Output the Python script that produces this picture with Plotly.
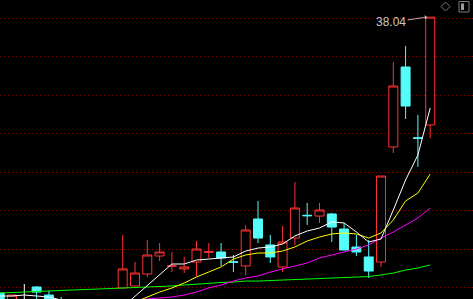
import plotly.graph_objects as go

W, H = 473, 299

# candle index (position along the time axis)
idx = list(range(-1, 35))

opens = [12.96, 12.00, 12.20, 13.51, 12.78, 12.35, 12.00, 11.60, 11.90, 11.70,
         13.42, 13.60, 14.69, 16.33, 15.40, 15.15, 15.78, 16.67, 16.69, 15.80,
         15.42, 19.69, 17.33, 15.33, 17.96, 20.03, 19.96, 20.15, 18.78, 17.14,
         16.24, 15.78, 26.24, 33.51, 27.07, 28.24]
highs = [13.05, 12.78, 13.78, 13.60, 13.15, 12.60, 12.20, 12.10, 12.20, 12.30,
         18.24, 15.78, 17.78, 17.51, 16.69, 16.24, 17.69, 17.51, 17.51, 16.42,
         19.15, 21.33, 18.24, 19.05, 23.05, 21.15, 21.15, 20.24, 19.33, 18.24,
         17.78, 23.60, 33.96, 35.42, 29.15, 38.04]
lows = [11.80, 11.90, 11.90, 12.30, 12.00, 11.80, 11.50, 11.50, 11.60, 11.60,
        13.42, 13.60, 14.42, 15.87, 14.87, 14.78, 14.51, 16.15, 15.42, 14.87,
        14.60, 17.51, 15.69, 14.87, 17.33, 19.15, 19.33, 17.60, 16.87, 16.33,
        14.33, 15.33, 25.69, 28.78, 24.42, 27.05]
closes = [12.00, 12.78, 12.20, 13.05, 12.20, 12.00, 11.70, 11.90, 11.70, 12.10,
          15.15, 14.78, 16.42, 16.69, 15.44, 15.33, 16.96, 16.71, 16.15, 15.76,
          18.69, 17.96, 16.24, 17.60, 20.69, 19.99, 20.51, 18.96, 16.87, 16.69,
          14.96, 23.60, 31.78, 29.96, 27.03, 38.04]

ma5 = [12.69, 12.69, 12.78, 12.69, 12.60, 12.33, 12.05, 11.87, 11.69, 11.42,
       11.69, 12.69, 13.69, 14.69, 15.60, 15.60, 15.96, 16.05, 16.15, 16.24,
       16.78, 17.05, 17.15, 17.42, 18.15, 18.60, 18.87, 19.42, 19.33, 18.51,
       17.60, 17.87, 20.51, 23.24, 25.51, 29.78]
ma10 = [11.90, 11.85, 11.80, 11.75, 11.70, 11.65, 11.60, 11.55, 11.50, 11.45,
        11.69, 12.15, 12.60, 13.05, 13.42, 13.87, 14.42, 14.87, 15.33, 16.05,
        16.42, 16.60, 16.60, 16.78, 17.15, 17.69, 18.05, 18.33, 18.42, 18.33,
        17.96, 18.42, 19.60, 21.33, 22.05, 23.78]
ma20 = [11.60, 11.62, 11.65, 11.68, 11.70, 11.73, 11.76, 11.80, 11.85, 11.95,
        12.15, 12.33, 12.42, 12.51, 12.60, 12.78, 13.05, 13.42, 13.69, 14.05,
        14.33, 14.51, 14.87, 15.15, 15.42, 15.69, 16.15, 16.42, 16.69, 16.96,
        17.33, 17.96, 18.51, 19.15, 19.78, 20.69]
ma60 = [12.96, 13.01, 13.10, 13.15, 13.19, 13.24, 13.24, 13.28, 13.33, 13.33,
        13.37, 13.42, 13.51, 13.55, 13.60, 13.69, 13.78, 13.87, 13.92, 13.96,
        14.05, 14.05, 14.10, 14.15, 14.19, 14.24, 14.28, 14.33, 14.37, 14.42,
        14.46, 14.60, 14.78, 15.05, 15.24, 15.51]

high_label = "38.04"
doji_positions = [1]

RED = "#ff3232"
CYAN = "#54fcfc"

main_i = [k for k, p in enumerate(idx) if p not in doji_positions]
doji_i = [k for k, p in enumerate(idx) if p in doji_positions]

def pick(arr, sel):
    return [arr[k] for k in sel]

fig = go.Figure()

fig.add_trace(go.Candlestick(
    x=pick(idx, main_i), open=pick(opens, main_i), high=pick(highs, main_i),
    low=pick(lows, main_i), close=pick(closes, main_i),
    increasing=dict(line=dict(color=RED, width=1), fillcolor="#000000"),
    decreasing=dict(line=dict(color=CYAN, width=1), fillcolor=CYAN),
    whiskerwidth=0, hoverinfo="skip", showlegend=False,
))
fig.add_trace(go.Candlestick(
    x=pick(idx, doji_i), open=pick(opens, doji_i), high=pick(highs, doji_i),
    low=pick(lows, doji_i), close=pick(closes, doji_i),
    increasing=dict(line=dict(color="#ffffff", width=1), fillcolor="#ffffff"),
    decreasing=dict(line=dict(color="#ffffff", width=1), fillcolor="#ffffff"),
    whiskerwidth=0, hoverinfo="skip", showlegend=False,
))

for vals, col in [(ma60, "#00ff00"), (ma20, "#ff00ff"), (ma10, "#ffff00"), (ma5, "#ffffff")]:
    fig.add_trace(go.Scatter(x=idx, y=vals, mode="lines",
                             line=dict(color=col, width=1),
                             hoverinfo="skip", showlegend=False))

last = len(idx) - 1
fig.add_annotation(
    x=idx[last], y=highs[last], text=high_label, showarrow=True,
    xshift=-3, ax=-36, ay=5, arrowhead=1, arrowsize=0.8, arrowwidth=1,
    arrowcolor="#b4b4b4",
    font=dict(family="Liberation Sans, Arial", size=12, color="#c8c8c8"),
)

# decorative icons (top right corner)
def px(x):
    return x / W

def py(y):
    return 1 - y / H

icon_col = "#7a7a7a"
fig.add_shape(type="path", xref="paper", yref="paper",
              path=f"M {px(445.5)},{py(2)} L {px(450)},{py(6.5)} L {px(445.5)},{py(11)} L {px(441)},{py(6.5)} Z",
              line=dict(color=icon_col, width=1))
fig.add_shape(type="rect", xref="paper", yref="paper",
              x0=px(459), x1=px(469), y0=py(12), y1=py(1.5),
              line=dict(color=icon_col, width=1))
fig.add_shape(type="rect", xref="paper", yref="paper",
              x0=px(461), x1=px(464), y0=py(10), y1=py(3.5),
              line=dict(width=0), fillcolor="#9a9a9a")

fig.update_layout(
    width=W, height=H,
    margin=dict(l=0, r=0, t=0, b=0),
    paper_bgcolor="#000000", plot_bgcolor="#000000",
    boxgap=0.27, boxgroupgap=0,
    showlegend=False,
    xaxis=dict(range=[-0.976, 37.48], showgrid=False, zeroline=False,
               showticklabels=False, rangeslider=dict(visible=False),
               showline=False, ticks=""),
    yaxis=dict(range=[39.6 - 299 / 11, 39.6], showgrid=True,
               gridcolor="#8a0000", griddash="1px,3px", gridwidth=1,
               tick0=37.936, dtick=3.5, zeroline=False,
               showticklabels=False, showline=False, ticks=""),
)

fig.write_html("out.html")
